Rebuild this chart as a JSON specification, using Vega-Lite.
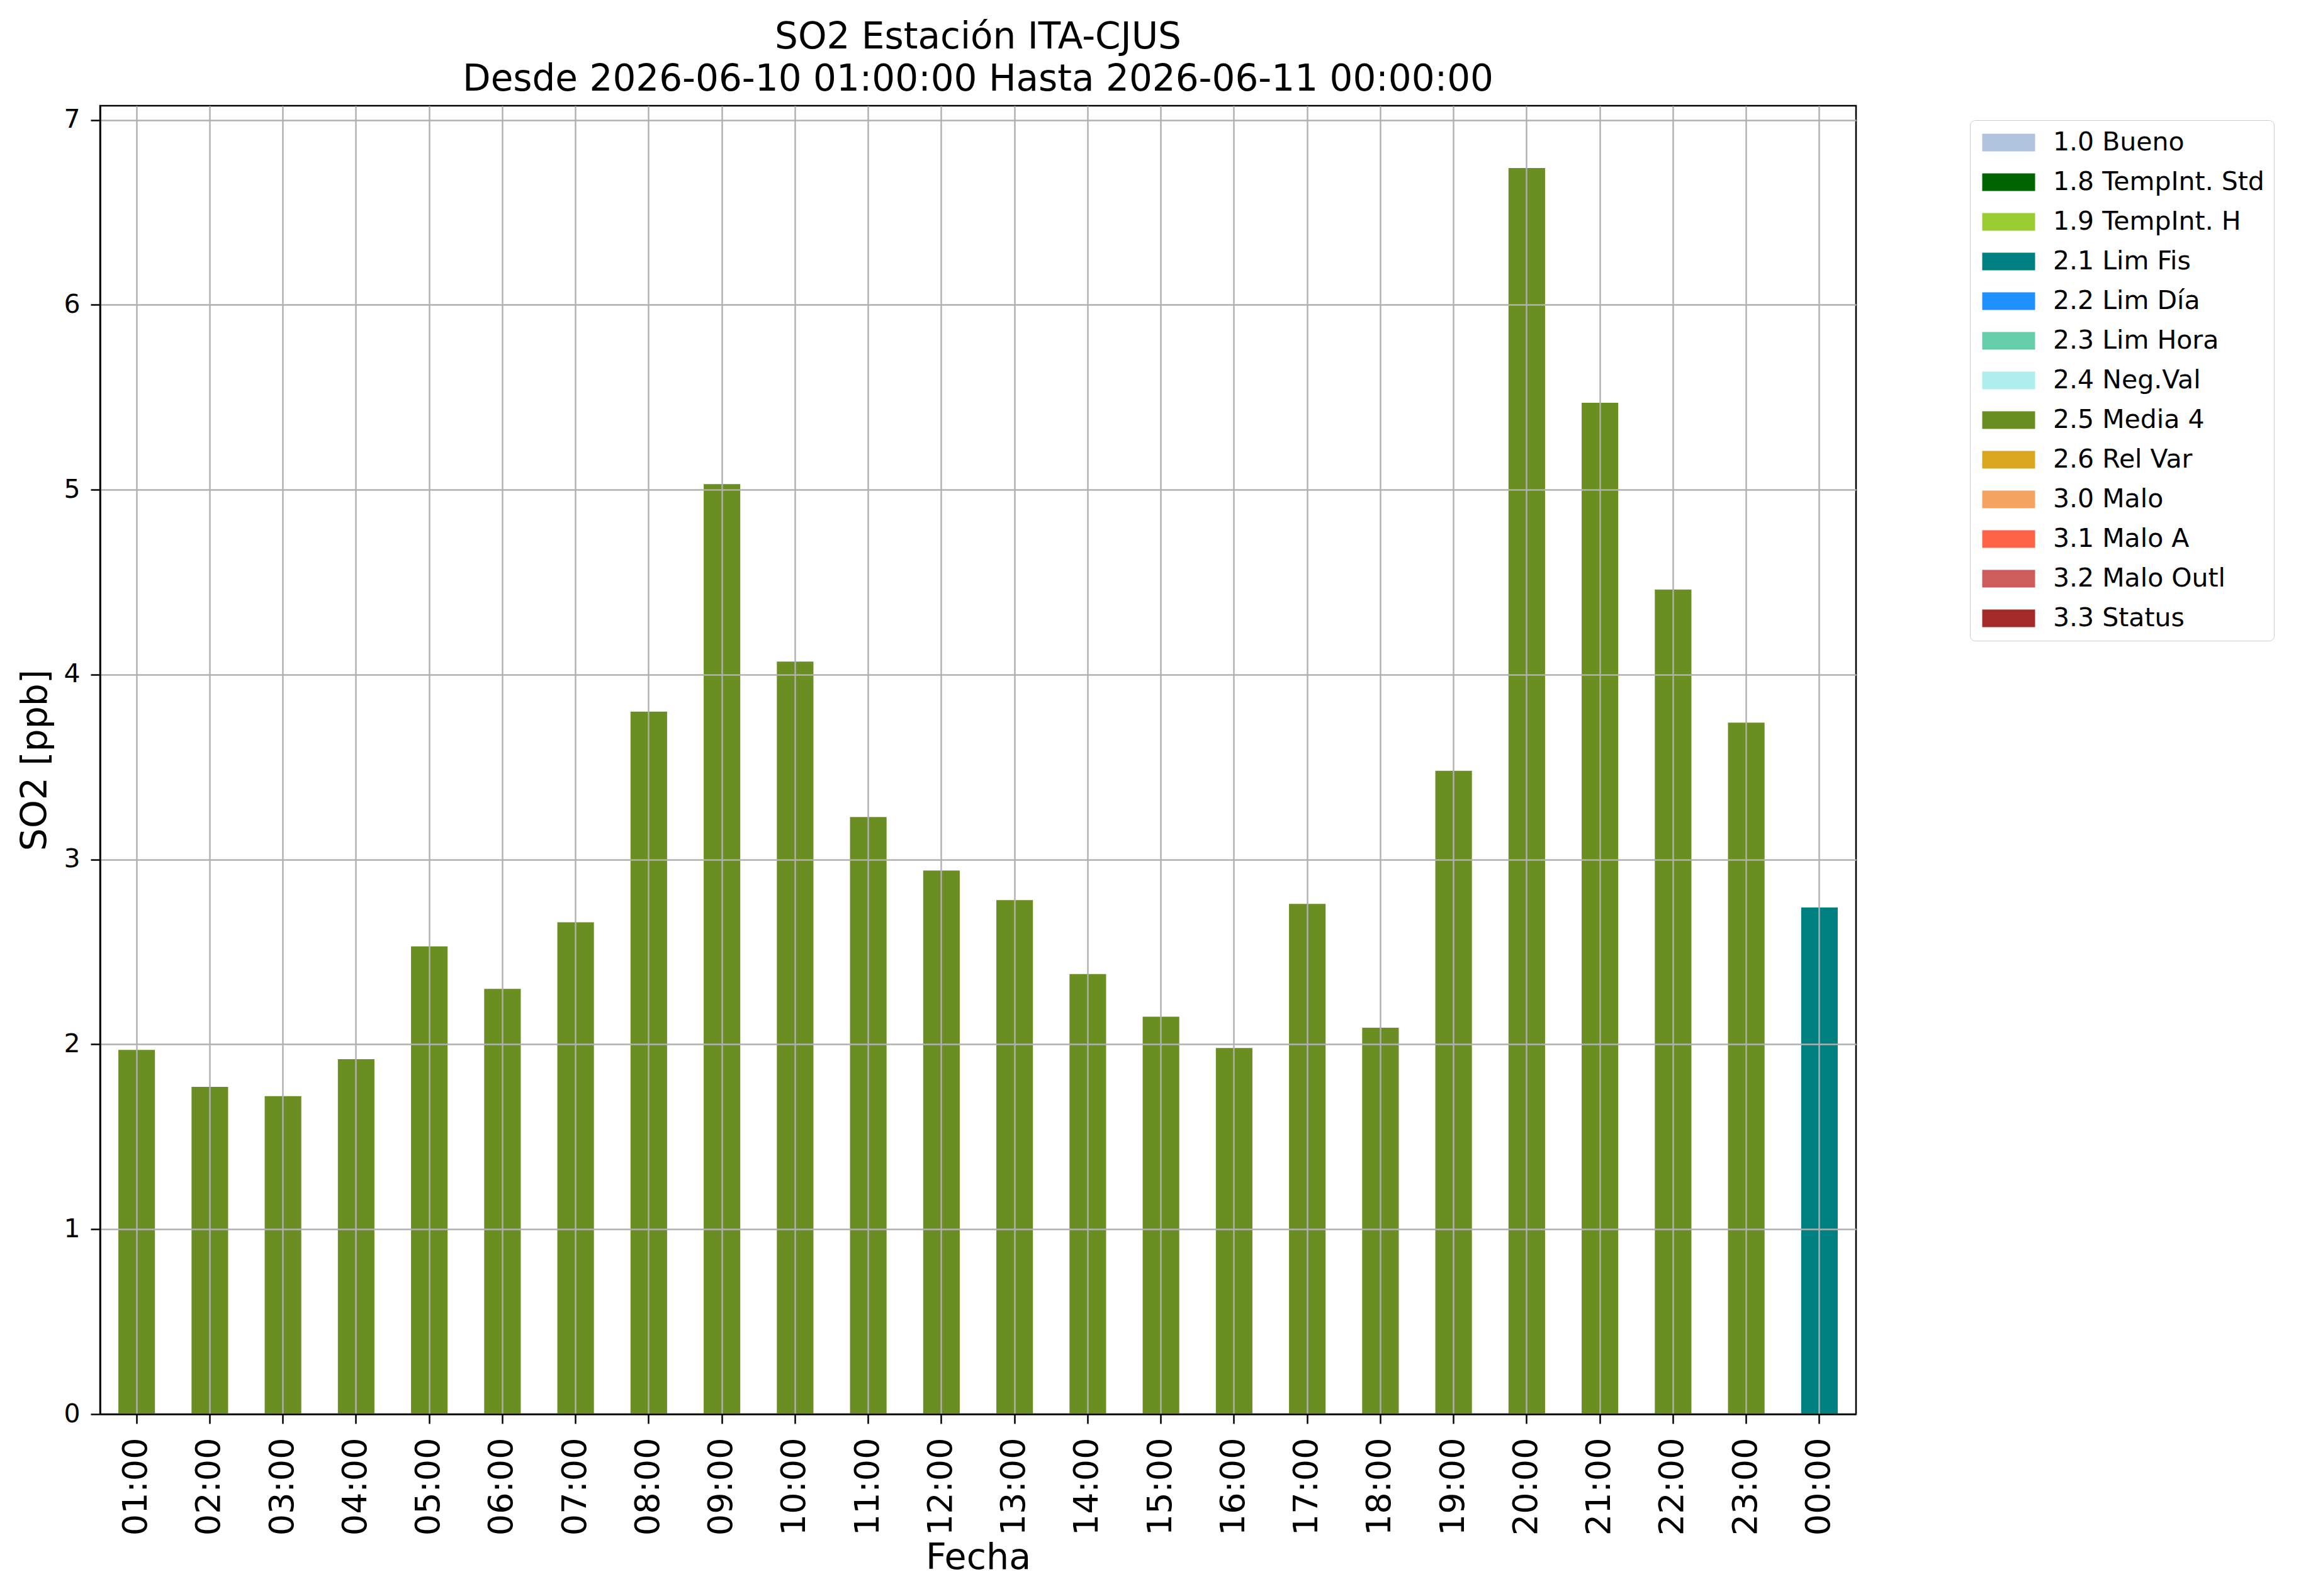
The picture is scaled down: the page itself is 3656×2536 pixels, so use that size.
{
  "$schema": "https://vega.github.io/schema/vega-lite/v6.json",
  "description": "SO2 hourly values, station ITA-CJUS",
  "width": 2790,
  "height": 2079,
  "autosize": {"type": "none"},
  "padding": {"left": 159, "top": 168, "right": 707, "bottom": 289},
  "background": "white",
  "title": {
    "text": ["SO2 Estación ITA-CJUS", "Desde 2026-06-10 01:00:00 Hasta 2026-06-11 00:00:00"],
    "fontSize": 58,
    "fontWeight": "normal",
    "font": "DejaVu Sans",
    "color": "black",
    "anchor": "middle",
    "lineHeight": 67,
    "offset": 12
  },
  "data": {
    "values": [
      {"hora": "01:00", "so2": 1.97, "flag": "2.5 Media 4"},
      {"hora": "02:00", "so2": 1.77, "flag": "2.5 Media 4"},
      {"hora": "03:00", "so2": 1.72, "flag": "2.5 Media 4"},
      {"hora": "04:00", "so2": 1.92, "flag": "2.5 Media 4"},
      {"hora": "05:00", "so2": 2.53, "flag": "2.5 Media 4"},
      {"hora": "06:00", "so2": 2.30, "flag": "2.5 Media 4"},
      {"hora": "07:00", "so2": 2.66, "flag": "2.5 Media 4"},
      {"hora": "08:00", "so2": 3.80, "flag": "2.5 Media 4"},
      {"hora": "09:00", "so2": 5.03, "flag": "2.5 Media 4"},
      {"hora": "10:00", "so2": 4.07, "flag": "2.5 Media 4"},
      {"hora": "11:00", "so2": 3.23, "flag": "2.5 Media 4"},
      {"hora": "12:00", "so2": 2.94, "flag": "2.5 Media 4"},
      {"hora": "13:00", "so2": 2.78, "flag": "2.5 Media 4"},
      {"hora": "14:00", "so2": 2.38, "flag": "2.5 Media 4"},
      {"hora": "15:00", "so2": 2.15, "flag": "2.5 Media 4"},
      {"hora": "16:00", "so2": 1.98, "flag": "2.5 Media 4"},
      {"hora": "17:00", "so2": 2.76, "flag": "2.5 Media 4"},
      {"hora": "18:00", "so2": 2.09, "flag": "2.5 Media 4"},
      {"hora": "19:00", "so2": 3.48, "flag": "2.5 Media 4"},
      {"hora": "20:00", "so2": 6.74, "flag": "2.5 Media 4"},
      {"hora": "21:00", "so2": 5.47, "flag": "2.5 Media 4"},
      {"hora": "22:00", "so2": 4.46, "flag": "2.5 Media 4"},
      {"hora": "23:00", "so2": 3.74, "flag": "2.5 Media 4"},
      {"hora": "00:00", "so2": 2.74, "flag": "2.1 Lim Fis"}
    ]
  },
  "mark": {"type": "bar", "tooltip": true},
  "encoding": {
    "x": {
      "field": "hora",
      "type": "nominal",
      "sort": null,
      "scale": {"paddingInner": 0.5, "paddingOuter": 0.25},
      "axis": {
        "title": "Fecha",
        "labelAngle": -90,
        "labelFontSize": 54,
        "labelPadding": 22,
        "titleFontSize": 57,
        "titlePadding": 8,
        "grid": true,
        "zindex": 2
      }
    },
    "y": {
      "field": "so2",
      "type": "quantitative",
      "scale": {"domain": [0, 7.077], "nice": false, "zero": true},
      "axis": {
        "title": "SO2 [ppb]",
        "values": [0, 1, 2, 3, 4, 5, 6, 7],
        "format": "d",
        "labelFontSize": 41,
        "labelPadding": 17,
        "titleFontSize": 57,
        "titlePadding": 15,
        "grid": true,
        "zindex": 2
      }
    },
    "color": {
      "field": "flag",
      "type": "nominal",
      "scale": {
        "domain": ["1.0 Bueno", "1.8 TempInt. Std", "1.9 TempInt. H", "2.1 Lim Fis", "2.2 Lim Día", "2.3 Lim Hora", "2.4 Neg.Val", "2.5 Media 4", "2.6 Rel Var", "3.0 Malo", "3.1 Malo A", "3.2 Malo Outl", "3.3 Status"],
        "range": ["#b0c4de", "#006400", "#9acd32", "#008080", "#1e90ff", "#66cdaa", "#afeeee", "#6b8e23", "#daa520", "#f4a460", "#ff6347", "#cd5c5c", "#a52a2a"]
      },
      "legend": {
        "title": null,
        "orient": "none",
        "legendX": 2971,
        "legendY": 23,
        "symbolType": "M-3,-1H3V1H-3Z",
        "symbolSize": 784,
        "symbolStrokeWidth": 0,
        "symbolOffset": 26,
        "symbolOpacity": 1,
        "labelOffset": 50,
        "labelFontSize": 41,
        "labelColor": "black",
        "rowPadding": 21,
        "padding": 15,
        "strokeColor": "#cccccc",
        "cornerRadius": 8,
        "fillColor": "white",
        "labelLimit": 0
      }
    }
  },
  "config": {
    "font": "DejaVu Sans",
    "view": {"stroke": "black", "strokeWidth": 2.5},
    "axis": {
      "gridColor": "#b0b0b0",
      "gridWidth": 2.4,
      "gridOpacity": 1,
      "domainColor": "black",
      "domainWidth": 2.5,
      "tickColor": "black",
      "tickWidth": 2.5,
      "tickSize": 15,
      "labelColor": "black",
      "titleColor": "black",
      "titleFontWeight": "normal"
    }
  }
}
